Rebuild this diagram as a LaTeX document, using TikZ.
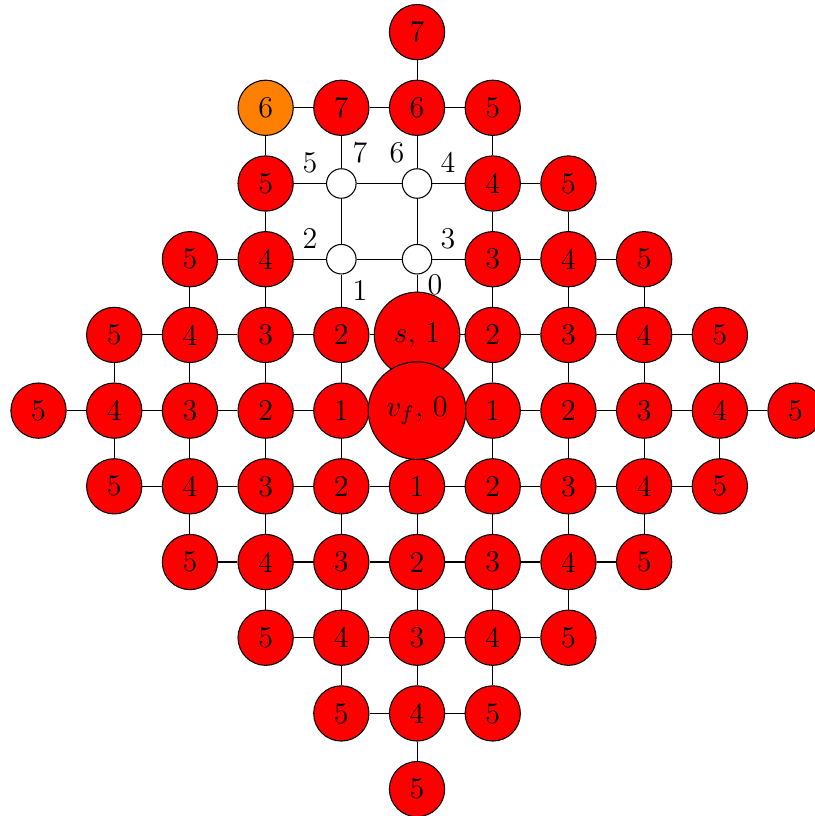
\documentclass[tikz,border=0pt]{standalone}
\usetikzlibrary{backgrounds}
\newcommand{\fsz}{\fontsize{11.3}{13.6}\selectfont}
\tikzset{
  rn/.style={circle,draw=black,fill=red,minimum size=0.73cm,inner sep=0pt,font=\fsz},
  onode/.style={rn,fill=orange},
  wn/.style={circle,draw=black,fill=white,minimum size=0.39cm,inner sep=0pt},
  bigs/.style={rn,minimum size=1.13cm},
  bigv/.style={rn,minimum size=1.29cm},
  portlbl/.style={font=\fsz,inner sep=0pt},
  edge/.style={draw=black,line width=0.4pt}
}
\begin{document}
\begin{tikzpicture}
\useasboundingbox (-5.509,-5.355) rectangle (5.244,5.424);
% red nodes
\foreach \i/\j/\l in {
  0/5/7,
  -1/4/7, 0/4/6, 1/4/5,
  -2/3/5, 1/3/4, 2/3/5,
  -3/2/5, -2/2/4, 1/2/3, 2/2/4, 3/2/5,
  -4/1/5, -3/1/4, -2/1/3, -1/1/2, 1/1/2, 2/1/3, 3/1/4, 4/1/5,
  -5/0/5, -4/0/4, -3/0/3, -2/0/2, -1/0/1, 1/0/1, 2/0/2, 3/0/3, 4/0/4, 5/0/5,
  -4/-1/5, -3/-1/4, -2/-1/3, -1/-1/2, 0/-1/1, 1/-1/2, 2/-1/3, 3/-1/4, 4/-1/5,
  -3/-2/5, -2/-2/4, -1/-2/3, 0/-2/2, 1/-2/3, 2/-2/4, 3/-2/5,
  -2/-3/5, -1/-3/4, 0/-3/3, 1/-3/4, 2/-3/5,
  -1/-4/5, 0/-4/4, 1/-4/5,
  0/-5/5}
  \node[rn] (n\i_\j) at (\i,\j) {\l};
% orange node
\node[onode] (n-2_4) at (-2,4) {6};
% white nodes
\foreach \i/\j in {-1/3, 0/3, -1/2, 0/2}
  \node[wn] (n\i_\j) at (\i,\j) {};
% big nodes
\node[bigs] (n0_1) at (0,1) {$s$, 1};
\node[bigv] (n0_0) at (0,0) {$v_f$, 0};
% port labels
\node[portlbl] (p0) at (0.238,1.664) {0};
\node[portlbl] (p1) at (-0.753,1.585) {1};
\node[portlbl] (p2) at (-1.413,2.272) {2};
\node[portlbl] (p3) at (0.41,2.272) {3};
\node[portlbl] (p4) at (0.41,3.276) {4};
\node[portlbl] (p5) at (-1.413,3.276) {5};
\node[portlbl] (p6) at (-0.264,3.408) {6};
\node[portlbl] (p7) at (-0.753,3.408) {7};
% edges
\begin{scope}[on background layer]
\foreach \i in {-5,...,5}{
  \foreach \j in {-5,...,5}{
    \pgfmathtruncatemacro\a{abs(\i)+abs(\j)}
    \pgfmathtruncatemacro\ip{\i+1}
    \pgfmathtruncatemacro\jp{\j+1}
    \pgfmathtruncatemacro\b{abs(\ip)+abs(\j)}
    \pgfmathtruncatemacro\c{abs(\i)+abs(\jp)}
    \ifnum\a<6
      \ifnum\b<6 \draw[edge] (n\i_\j) -- (n\ip_\j); \fi
      \ifnum\c<6 \draw[edge] (n\i_\j) -- (n\i_\jp); \fi
    \fi
  }
}
\draw[edge] (n-2_4) -- (n-1_4);
\draw[edge] (n-2_4) -- (n-2_3);
\end{scope}
\end{tikzpicture}
\end{document}
